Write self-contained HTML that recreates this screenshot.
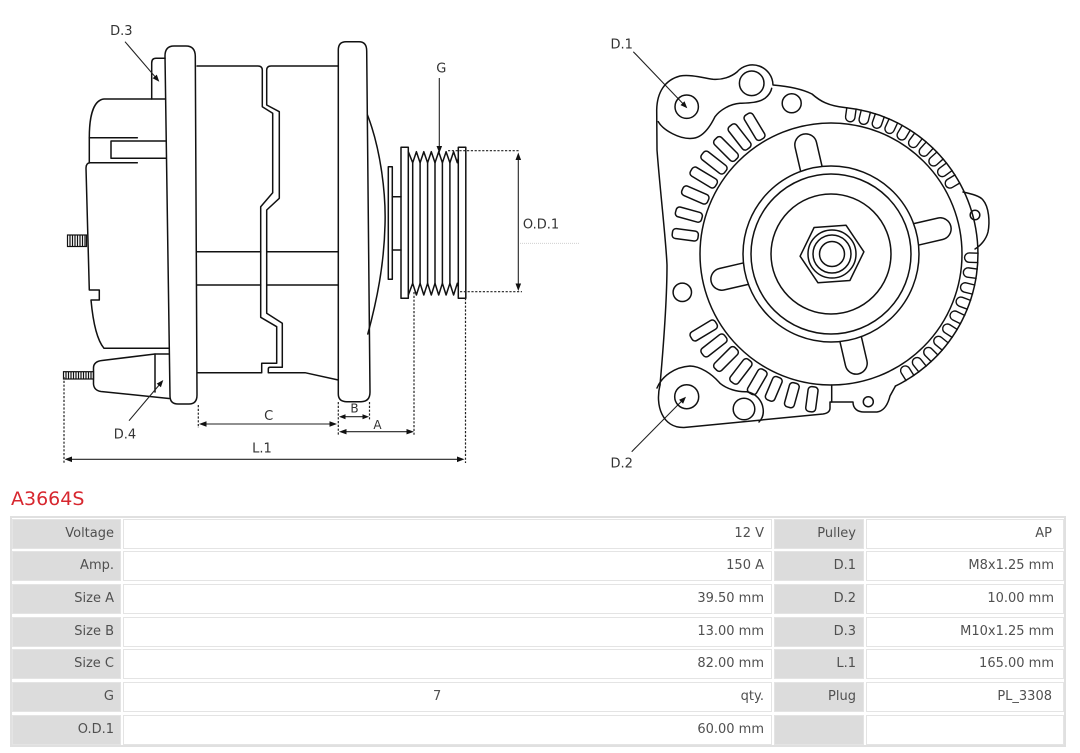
<!DOCTYPE html>
<html><head><meta charset="utf-8">
<style>
html,body{margin:0;padding:0;background:#fff;}
body{width:1080px;height:753px;position:relative;overflow:hidden;font-family:"DejaVu Sans","Liberation Sans",sans-serif;}
svg{position:absolute;left:0;top:0;}
#title{position:absolute;left:11px;top:488px;font-size:19px;line-height:22px;color:#d7272f;white-space:nowrap;}
#tbl{position:absolute;left:10px;top:516px;width:1056px;height:231px;box-sizing:border-box;border:2px solid #e0e0e0;background:#fff;}
.c{position:absolute;height:30px;box-sizing:border-box;border:1px solid #e4e4e4;line-height:28px;text-align:right;font-size:13px;color:#505050;white-space:nowrap;background:#fff;}
.l{background:#dcdcdc;}
.c1{left:12px;width:109px;padding-right:6px;}
.c2{left:123px;width:649px;padding-right:7px;}
.c3{left:774px;width:90px;padding-right:7px;}
.c4{left:866px;width:198px;padding-right:9px;}
</style></head><body>
<svg width="1080" height="490" viewBox="0 0 1080 490">
<g fill="none" stroke="#111" stroke-width="1.5" stroke-linejoin="round" stroke-linecap="round">
<!-- LEFT VIEW -->
<path d="M170,396 L165,56 Q165,46 174,46 L186,46 Q195,46 195.3,56 L197,395 Q197,404 189,404 L178,404 Q170,404 170,396 Z"/>
<path d="M165,58.3 L156,58.3 Q151.7,58.3 151.7,63 L151.7,99"/>
<path d="M165.5,99 L104,99 C95,100 89.3,112 89.3,137.7 L89.3,162.7"/>
<path d="M89.3,137.7 L137.3,137.7"/>
<path d="M165.8,141 L111,141 L111,158.3 L166,158.3"/>
<path d="M137.3,162.7 L90,162.7 Q86,163 86,168 L89.3,290 L99.3,290 L99.3,300 L91,300 C93,322 97,340 104,348.3 L168.5,348.3"/>
<path d="M168.5,354 L155,354 L102,360.5 Q93.5,361.5 93.5,368 L93.5,384 Q94,390.5 101,391.5 L169,398.5"/>
<path d="M155,354 L155,392"/>
<path d="M197,66 L258,66 Q262.3,66 262.3,70 L262.3,106.7 L272.7,113.3 L272.7,192.7 L260.7,206.7 L260.7,317.3 L276.7,326.7 L276.7,363.3 L261.7,363.3 L261.7,372.7 L197.5,372.7"/>
<path d="M338.3,66 L271,66 Q266.7,66 266.7,70 L266.7,105 L279.3,111.7 L279.3,198.3 L266.7,210 L266.7,313.3 L282.3,323.3 L282.3,367.3 L270,367.3 Q268.3,367.3 268.3,369 L268.3,372.7 L305,372.7 L338.3,380"/>
<path d="M197,251.7 L260.7,251.7 M266.7,251.7 L338.3,251.7 M197,285 L260.7,285 M266.7,285 L338.3,285"/>
<path d="M338.3,394 L338.3,50 Q338.3,41.7 346,41.7 L359,41.7 Q366.7,41.7 366.7,51 L370,392 Q370,401.7 361,401.7 L347,401.7 Q338.3,401.7 338.3,394 Z"/>
<path d="M367.5,115 C381,150 386,195 385,225 C384,265 377,300 367.8,334"/>
<rect x="388.3" y="166.7" width="4" height="112.6"/>
<path d="M392.3,196.7 L401,196.7 M392.3,250 L401,250"/>
<rect x="401" y="147.3" width="7.3" height="151"/>
<rect x="458.3" y="147.3" width="7.5" height="151"/>
<path d="M408.3,151.7 L412.7,162.7 L416.4,151.7 L420.1,162.7 L423.8,151.7 L427.6,162.7 L431.3,151.7 L435,162.7 L438.7,151.7 L442.4,162.7 L446.1,151.7 L449.9,162.7 L453.6,151.7 L457.3,162.7 L458.3,158"/>
<path d="M408.3,295 L412.7,283.3 L416.4,295 L420.1,283.3 L423.8,295 L427.6,283.3 L431.3,295 L435,283.3 L438.7,295 L442.4,283.3 L446.1,295 L449.9,283.3 L453.6,295 L457.3,283.3 L458.3,287"/>
<path d="M412.7,162.7 L412.7,283.3 M420.1,162.7 L420.1,283.3 M427.6,162.7 L427.6,283.3 M435,162.7 L435,283.3 M442.4,162.7 L442.4,283.3 M449.9,162.7 L449.9,283.3"/>
</g>
<!-- studs -->
<g fill="none" stroke="#111" stroke-width="1.2">
<rect x="67.5" y="235" width="19" height="11.5"/>
<path d="M70,235 L70,246.5 M72.5,235 L72.5,246.5 M75,235 L75,246.5 M77.5,235 L77.5,246.5 M80,235 L80,246.5 M82.5,235 L82.5,246.5 M85,235 L85,246.5"/>
<rect x="63.5" y="371.7" width="30" height="7.3"/>
<path d="M66,371.7 L66,379 M68.5,371.7 L68.5,379 M71,371.7 L71,379 M73.5,371.7 L73.5,379 M76,371.7 L76,379 M78.5,371.7 L78.5,379 M81,371.7 L81,379 M83.5,371.7 L83.5,379 M86,371.7 L86,379 M88.5,371.7 L88.5,379 M91,371.7 L91,379"/>
</g>
<!-- dashed -->
<g fill="none" stroke="#222" stroke-width="1.2" stroke-dasharray="2.2 1.6">
<path d="M448,150.7 L520,150.7"/>
<path d="M460,291.7 L522,291.7"/>
<path d="M414,292 L414,436"/>
<path d="M465.5,298 L465.5,463"/>
<path d="M64,377 L64,463"/>
<path d="M198.3,405 L198.3,428"/>
<path d="M338.3,402 L338.3,435"/>
<path d="M369.5,402 L369.5,420"/>
</g>
<path d="M520,243.3 L580,243.3" stroke="#c8c8c8" stroke-width="0.8" stroke-dasharray="1 1" fill="none"/>
<!-- dimension lines -->
<g fill="none" stroke="#222" stroke-width="1.1">
<path d="M518.3,155 L518.3,288"/>
<path d="M439.3,78 L439.3,148"/>
<path d="M203,424 L333,424"/>
<path d="M343,416.7 L365,416.7"/>
<path d="M343,431.7 L410,431.7"/>
<path d="M68,459.3 L461,459.3"/>
<path d="M125,41.7 L156,77.8"/>
<path d="M129,420.7 L160,384"/>
<path d="M633.3,51.7 L684,104.8"/>
<path d="M631.7,451.7 L683,399.7"/>
</g>
<g fill="#111" stroke="none">
<polygon points="159.3,81.7 152.6,78.2 156.8,74.6"/>
<polygon points="163.3,380 160.9,387.2 156.7,383.6"/>
<polygon points="687.3,108.3 680.5,105.1 684.5,101.3"/>
<polygon points="686,396.7 683.1,403.7 679.1,399.7"/>
<polygon points="439.3,153.3 436.5,146 442.1,146"/>
<polygon points="518.3,152.5 515.5,160 521.1,160"/>
<polygon points="518.3,291 515.5,283.5 521.1,283.5"/>
<polygon points="199,424 206.5,421.2 206.5,426.8"/>
<polygon points="337,424 329.5,421.2 329.5,426.8"/>
<polygon points="339,416.7 345.5,414.2 345.5,419.2"/>
<polygon points="369,416.7 362.5,414.2 362.5,419.2"/>
<polygon points="339,431.7 346.5,429 346.5,434.4"/>
<polygon points="414,431.7 406.5,429 406.5,434.4"/>
<polygon points="64.5,459.3 72,456.5 72,462.1"/>
<polygon points="464.5,459.3 457,456.5 457,462.1"/>
</g>
<!-- labels -->
<g font-family="DejaVu Sans, Liberation Sans, sans-serif" font-size="13" fill="#333" text-anchor="middle">
<text x="121.3" y="35">D.3</text>
<text x="125" y="438.5">D.4</text>
<text x="441.3" y="72.5">G</text>
<text x="541" y="228.5">O.D.1</text>
<text x="268.7" y="420">C</text>
<text x="262" y="452.5">L.1</text>
<text x="354.5" y="412.7" font-size="12">B</text>
<text x="377.5" y="429" font-size="12">A</text>
<text x="621.7" y="48.5">D.1</text>
<text x="621.7" y="467.5">D.2</text>
</g>
<!-- RIGHT VIEW -->
<g fill="none" stroke="#111" stroke-width="1.5" stroke-linejoin="round" stroke-linecap="round">
<path d="M660,385 C664,340 667,300 667,265 C666,240 660,190 657,150 L656.7,110 C657,92 665,80 680,76 C690,74 704,78 713,79.3 C722,80 731,77 737,72 A20.5,20.5 0 0 1 773,85 C785,86 800,88 812,94 C820,101 828,106 846.4,107.8"/>
<path d="M658.3,121.7 C663,130 680,140 693.3,138.3 C703,137 710,127 715,116.7 C720,110 730,104 740,103.3 C748,103 758,103 765,98.3 C769,95 771,92 771.7,88.3"/>
<circle cx="686.7" cy="106.7" r="11.7"/>
<circle cx="751.7" cy="83.3" r="12.3"/>
<circle cx="791.7" cy="103.3" r="9.5"/>
<circle cx="682.3" cy="292.3" r="9.2"/>
<path d="M660,385 C655,405 662,428 684,427.5 L823,414 Q830,413 830,408 L830,402 L853,402 C853,409 858,412 864,412 L877,412 C884,411 888,404 890,396 L895.4,386.1"/>
<path d="M831.7,385 L831.7,402"/>
<circle cx="868.3" cy="401.7" r="5"/>
<path d="M657,388 C662,376 675,367 690,366 C700,366 712,374 720,383.3 C727,389 737,392 746.7,391.7 C756,393 762,401 763,408 C764,414 762,419 759,422"/>
<circle cx="686.7" cy="396.7" r="12"/>
<circle cx="744" cy="409" r="10.8"/>
<path d="M963,192 C972,194 980,196 983,200 C989,207 990,222 988,232 C986,240 980,246 975,249"/>
<circle cx="975" cy="215" r="4.8"/>
<path d="M846.4,107.8 A147,147 0 0 1 895.4,386.1"/>
<circle cx="831" cy="254" r="131"/>
<circle cx="831" cy="254" r="88"/>
<circle cx="831" cy="254" r="80"/>
<circle cx="831" cy="254" r="60"/>
<polygon points="846,225.2 863.9,251.8 849.9,280.5 818,282.8 800.1,256.2 814.1,227.5"/>
<circle cx="832" cy="254" r="24"/>
<circle cx="832" cy="254" r="19"/>
<circle cx="832" cy="254" r="12.5"/>
<g transform="translate(831,254)">
<path transform="rotate(-103)" d="M88,-11 L112,-11 A11,11 0 0 1 112,11 L88,11"/>
<path transform="rotate(-13)" d="M88,-11 L112,-11 A11,11 0 0 1 112,11 L88,11"/>
<path transform="rotate(77)" d="M88,-11 L112,-11 A11,11 0 0 1 112,11 L88,11"/>
<path transform="rotate(167)" d="M88,-11 L112,-11 A11,11 0 0 1 112,11 L88,11"/>
<rect transform="rotate(-121)" x="134" y="-5" width="29" height="10" rx="3.5"/>
<rect transform="rotate(-128)" x="134" y="-5" width="29" height="10" rx="3.5"/>
<rect transform="rotate(-135)" x="134" y="-5" width="29" height="10" rx="3.5"/>
<rect transform="rotate(-142)" x="134" y="-5" width="29" height="10" rx="3.5"/>
<rect transform="rotate(-149)" x="134" y="-5" width="29" height="10" rx="3.5"/>
<rect transform="rotate(-156.5)" x="134" y="-5" width="28" height="10" rx="3.5"/>
<rect transform="rotate(-164.5)" x="134" y="-5" width="27" height="10" rx="3.5"/>
<rect transform="rotate(-172.5)" x="134" y="-5" width="26" height="10" rx="3.5"/>
<rect transform="rotate(149)" x="134" y="-5" width="29" height="10" rx="3.5"/>
<rect transform="rotate(142)" x="134" y="-5" width="29" height="10" rx="3.5"/>
<rect transform="rotate(135)" x="134" y="-5" width="29" height="10" rx="3.5"/>
<rect transform="rotate(127.5)" x="134" y="-5" width="28" height="10" rx="3.5"/>
<rect transform="rotate(120)" x="134" y="-5" width="27" height="10" rx="3.5"/>
<rect transform="rotate(113)" x="134" y="-5" width="25" height="10" rx="3.5"/>
<rect transform="rotate(105.5)" x="134" y="-5" width="25" height="10" rx="3.5"/>
<rect transform="rotate(97.5)" x="134" y="-5" width="25" height="10" rx="3.5"/>
<g stroke-width="1.4">
<path transform="rotate(-82)" d="M147,-4.7 L138.3,-4.7 A4.7,4.7 0 0 0 138.3,4.7 L147,4.7"/>
<path transform="rotate(-76.3)" d="M147,-4.7 L138.3,-4.7 A4.7,4.7 0 0 0 138.3,4.7 L147,4.7"/>
<path transform="rotate(-70.6)" d="M147,-4.7 L138.3,-4.7 A4.7,4.7 0 0 0 138.3,4.7 L147,4.7"/>
<path transform="rotate(-64.9)" d="M147,-4.7 L138.3,-4.7 A4.7,4.7 0 0 0 138.3,4.7 L147,4.7"/>
<path transform="rotate(-59.2)" d="M147,-4.7 L138.3,-4.7 A4.7,4.7 0 0 0 138.3,4.7 L147,4.7"/>
<path transform="rotate(-53.5)" d="M147,-4.7 L138.3,-4.7 A4.7,4.7 0 0 0 138.3,4.7 L147,4.7"/>
<path transform="rotate(-47.8)" d="M147,-4.7 L138.3,-4.7 A4.7,4.7 0 0 0 138.3,4.7 L147,4.7"/>
<path transform="rotate(-42.1)" d="M147,-4.7 L138.3,-4.7 A4.7,4.7 0 0 0 138.3,4.7 L147,4.7"/>
<path transform="rotate(-36.4)" d="M147,-4.7 L138.3,-4.7 A4.7,4.7 0 0 0 138.3,4.7 L147,4.7"/>
<path transform="rotate(-30.7)" d="M147,-4.7 L138.3,-4.7 A4.7,4.7 0 0 0 138.3,4.7 L147,4.7"/>
<path transform="rotate(1.5)" d="M147,-4.7 L138.3,-4.7 A4.7,4.7 0 0 0 138.3,4.7 L147,4.7"/>
<path transform="rotate(7.7)" d="M147,-4.7 L138.3,-4.7 A4.7,4.7 0 0 0 138.3,4.7 L147,4.7"/>
<path transform="rotate(14)" d="M147,-4.7 L138.3,-4.7 A4.7,4.7 0 0 0 138.3,4.7 L147,4.7"/>
<path transform="rotate(20.2)" d="M147,-4.7 L138.3,-4.7 A4.7,4.7 0 0 0 138.3,4.7 L147,4.7"/>
<path transform="rotate(26.5)" d="M147,-4.7 L138.3,-4.7 A4.7,4.7 0 0 0 138.3,4.7 L147,4.7"/>
<path transform="rotate(32.7)" d="M147,-4.7 L138.3,-4.7 A4.7,4.7 0 0 0 138.3,4.7 L147,4.7"/>
<path transform="rotate(39)" d="M147,-4.7 L138.3,-4.7 A4.7,4.7 0 0 0 138.3,4.7 L147,4.7"/>
<path transform="rotate(45.2)" d="M147,-4.7 L138.3,-4.7 A4.7,4.7 0 0 0 138.3,4.7 L147,4.7"/>
<path transform="rotate(51.5)" d="M147,-4.7 L138.3,-4.7 A4.7,4.7 0 0 0 138.3,4.7 L147,4.7"/>
<path transform="rotate(57.5)" d="M147,-4.7 L138.3,-4.7 A4.7,4.7 0 0 0 138.3,4.7 L147,4.7"/>
</g>
</g>
</g>
</svg>

<div id="title">A3664S</div>
<div id="tbl"></div>

<div class="c l c1" style="top:518.5px">Voltage</div>
<div class="c c2" style="top:518.5px">12 V</div>
<div class="c l c3" style="top:518.5px">Pulley</div>
<div class="c c4" style="top:518.5px;padding-right:11px">AP</div>

<div class="c l c1" style="top:551.2px">Amp.</div>
<div class="c c2" style="top:551.2px">150 A</div>
<div class="c l c3" style="top:551.2px">D.1</div>
<div class="c c4" style="top:551.2px">M8x1.25 mm</div>

<div class="c l c1" style="top:583.8px">Size A</div>
<div class="c c2" style="top:583.8px">39.50 mm</div>
<div class="c l c3" style="top:583.8px">D.2</div>
<div class="c c4" style="top:583.8px">10.00 mm</div>

<div class="c l c1" style="top:616.5px">Size B</div>
<div class="c c2" style="top:616.5px">13.00 mm</div>
<div class="c l c3" style="top:616.5px">D.3</div>
<div class="c c4" style="top:616.5px">M10x1.25 mm</div>

<div class="c l c1" style="top:649.2px">Size C</div>
<div class="c c2" style="top:649.2px">82.00 mm</div>
<div class="c l c3" style="top:649.2px">L.1</div>
<div class="c c4" style="top:649.2px">165.00 mm</div>

<div class="c l c1" style="top:681.8px">G</div>
<div class="c c2" style="top:681.8px">qty.<span style="position:absolute;left:309px;top:0;">7</span></div>
<div class="c l c3" style="top:681.8px">Plug</div>
<div class="c c4" style="top:681.8px;padding-right:11px">PL_3308</div>

<div class="c l c1" style="top:714.5px">O.D.1</div>
<div class="c c2" style="top:714.5px">60.00 mm</div>
<div class="c l c3" style="top:714.5px"></div>
<div class="c c4" style="top:714.5px"></div>
</body></html>
